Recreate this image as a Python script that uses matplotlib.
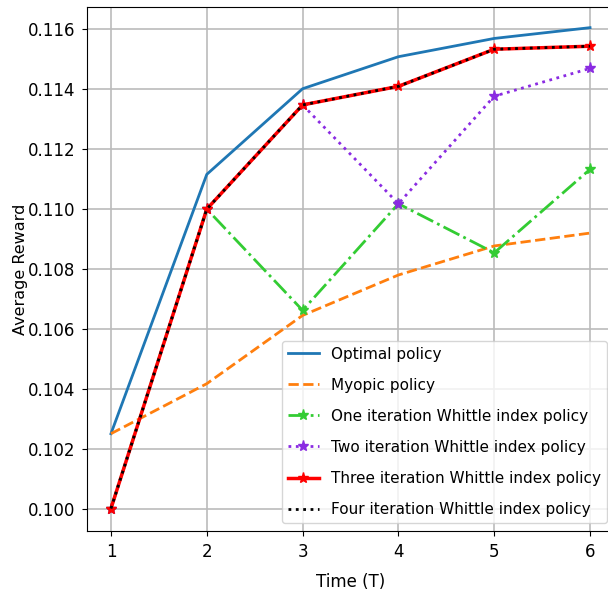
import numpy as np
import matplotlib
matplotlib.use('Agg')
import matplotlib.pyplot as plt

T = [1, 2, 3, 4, 5, 6]
optimal = [0.1025, 0.11116, 0.11402, 0.11509, 0.1157, 0.11606]
myopic = [0.1025, 0.10417, 0.10645, 0.1078, 0.10877, 0.1092]
one_iter = [0.100, 0.110, 0.10662, 0.11018, 0.10854, 0.11133]
two_iter = [0.100, 0.110, 0.11348, 0.11018, 0.11377, 0.1147]
three_iter = [0.100, 0.110, 0.11348, 0.1141, 0.11534, 0.11544]
four_iter = [0.100, 0.110, 0.11348, 0.1141, 0.11534, 0.11544]

fig = plt.figure(figsize=(6.08, 5.97), dpi=100)
# axes runs a bit past the right edge, as in the cropped original
ax = fig.add_axes([87 / 608, 1 - 531 / 597, 527 / 608, 524 / 597])

ax.plot(T, optimal, color='#1f77b4', linewidth=2, label='Optimal policy')
ax.plot(T, myopic, color='#ff7f0e', linestyle='--', linewidth=2, label='Myopic policy')
ax.plot(T, one_iter, color='#33cc33', linestyle='-.', linewidth=2, marker='*',
        markersize=8, label='One iteration Whittle index policy')
ax.plot(T, two_iter, color='#8a2be2', linestyle=':', linewidth=2, marker='*',
        markersize=8, label='Two iteration Whittle index policy')
ax.plot(T, three_iter, color='red', linewidth=2.5, marker='*',
        markersize=8, label='Three iteration Whittle index policy')
ax.plot(T, four_iter, color='black', linestyle=':', linewidth=2,
        label='Four iteration Whittle index policy')

ax.set_xlim(0.75, 6.25)
ax.set_ylim(0.09925, 0.11675)
ax.set_yticks(np.arange(0.100, 0.1161, 0.002))
ax.set_xticks(T)
ax.tick_params(labelsize=12, pad=5)
ax.set_xlabel('Time (T)', fontsize=12, labelpad=9)
ax.set_ylabel('Average Reward', fontsize=11.5, labelpad=0)
ax.grid(True, color='#bbbbbb', linewidth=1.2)
ax.legend(fontsize=11, loc='lower right', labelspacing=1.05, handlelength=2.0,
          bbox_to_anchor=(607 / 608, 1 - 523 / 597), bbox_transform=fig.transFigure,
          borderaxespad=0)

fig.savefig('out.png', dpi=100)
